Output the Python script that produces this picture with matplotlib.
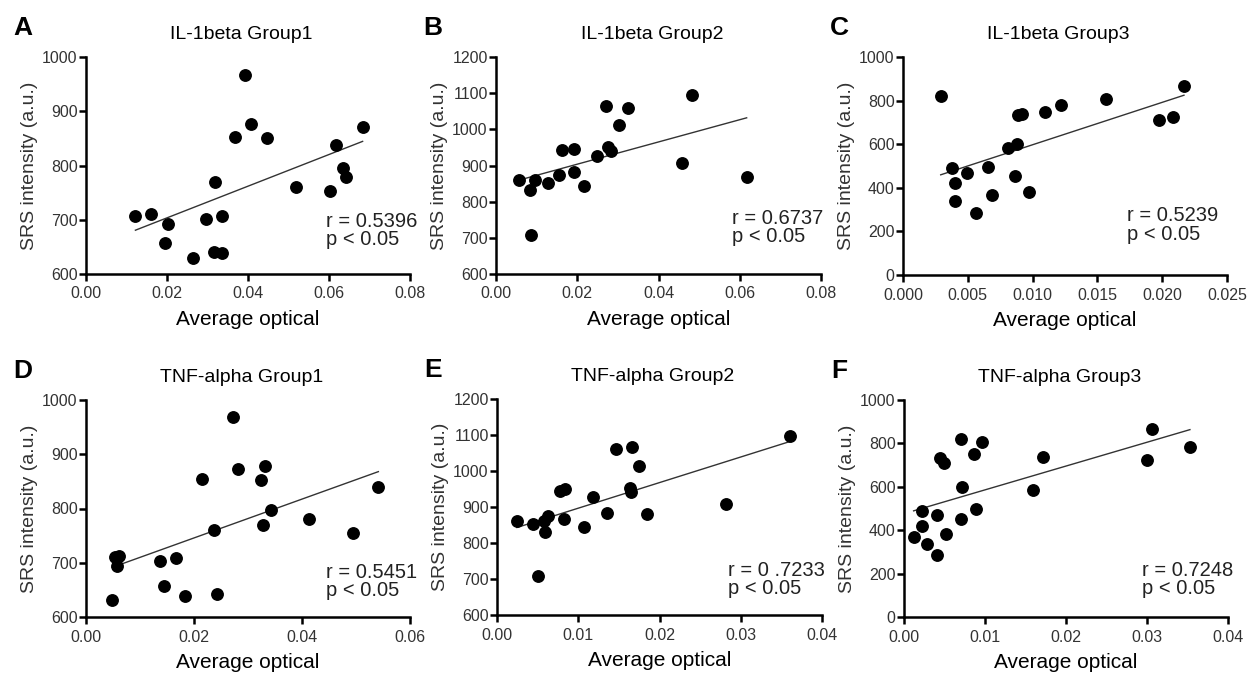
import matplotlib
matplotlib.use("Agg")
import matplotlib.pyplot as plt
import numpy as np

plt.rcParams["font.family"] = ["Liberation Sans", "DejaVu Sans"]

# ---- data ----
a_x = [0.0122, 0.0160, 0.0203, 0.0195, 0.0263, 0.0296, 0.0319, 0.0317, 0.0337, 0.0337,
       0.0367, 0.0393, 0.0408, 0.0446, 0.0518, 0.0602, 0.0618, 0.0635, 0.0642, 0.0683]
a_y = [707, 711, 693, 657, 630, 702, 769, 641, 639, 706,
       853, 967, 877, 850, 760, 753, 837, 796, 778, 871]

b_x = [0.0057, 0.0084, 0.0095, 0.0085, 0.0129, 0.0156, 0.0162, 0.0191, 0.0191, 0.0217,
       0.0248, 0.0270, 0.0275, 0.0283, 0.0302, 0.0324, 0.0458, 0.0482, 0.0617]
b_y = [860, 831, 860, 708, 851, 875, 942, 946, 882, 844,
       927, 1065, 952, 941, 1012, 1058, 907, 1095, 867]

c_x = [0.00291, 0.00376, 0.00404, 0.00404, 0.00494, 0.00563, 0.00656, 0.00689, 0.00808, 0.00877,
       0.00862, 0.00887, 0.00918, 0.00970, 0.01093, 0.01222, 0.01564, 0.01973, 0.02083, 0.02168]
c_y = [819, 490, 421, 338, 470, 286, 496, 366, 583, 602,
       456, 732, 737, 383, 750, 781, 807, 709, 723, 865]

d_x = [0.00488, 0.00537, 0.00617, 0.00580, 0.01377, 0.01438, 0.01673, 0.01833, 0.02148, 0.02370,
       0.02432, 0.02716, 0.02809, 0.03235, 0.03321, 0.03272, 0.03426, 0.04130, 0.04938, 0.05414]
d_y = [631, 710, 712, 694, 704, 658, 708, 639, 854, 761,
       643, 969, 873, 852, 879, 770, 798, 780, 754, 839]

e_x = [0.00246, 0.00443, 0.00509, 0.00587, 0.00583, 0.00632, 0.00779, 0.00833, 0.00821, 0.01075,
       0.01186, 0.01354, 0.01460, 0.01666, 0.01633, 0.01645, 0.01748, 0.01846, 0.02823, 0.03602]
e_y = [860, 852, 707, 831, 862, 875, 944, 949, 868, 844,
       929, 882, 1060, 1067, 952, 943, 1013, 880, 908, 1097]

f_x = [0.00119, 0.00227, 0.00227, 0.00288, 0.00412, 0.00412, 0.00445, 0.00494, 0.00515, 0.00700,
       0.00713, 0.00700, 0.00865, 0.00890, 0.00968, 0.01598, 0.01718, 0.02999, 0.03061, 0.03530]
f_y = [367, 419, 488, 338, 470, 286, 734, 710, 382, 822,
       601, 453, 750, 496, 808, 584, 736, 722, 866, 782]

# (letter, title, x, y, xticks, yticks, tick format, stats text)
PANELS = [
    ("A", "IL-1beta Group1", a_x, a_y, [0, 0.02, 0.04, 0.06, 0.08], [600, 700, 800, 900, 1000],
     "%.2f", "r = 0.5396\np < 0.05"),
    ("B", "IL-1beta Group2", b_x, b_y, [0, 0.02, 0.04, 0.06, 0.08], [600, 700, 800, 900, 1000, 1100, 1200],
     "%.2f", "r = 0.6737\np < 0.05"),
    ("C", "IL-1beta Group3", c_x, c_y, [0, 0.005, 0.010, 0.015, 0.020, 0.025], [0, 200, 400, 600, 800, 1000],
     "%.3f", "r = 0.5239\np < 0.05"),
    ("D", "TNF-alpha Group1", d_x, d_y, [0, 0.02, 0.04, 0.06], [600, 700, 800, 900, 1000],
     "%.2f", "r = 0.5451\np < 0.05"),
    ("E", "TNF-alpha Group2", e_x, e_y, [0, 0.01, 0.02, 0.03, 0.04], [600, 700, 800, 900, 1000, 1100, 1200],
     "%.2f", "r = 0 .7233\np < 0.05"),
    ("F", "TNF-alpha Group3", f_x, f_y, [0, 0.01, 0.02, 0.03, 0.04], [0, 200, 400, 600, 800, 1000],
     "%.2f", "r = 0.7248\np < 0.05"),
]

# axes boxes in pixels: left, top, right, bottom
BOXES = [
    (86, 57, 410, 274), (496, 57, 821, 274), (903, 57, 1227, 275),
    (86, 400, 410, 617), (497, 399, 822, 615), (904, 400, 1228, 617),
]
# stats text anchor (axes fraction, top-left)
STAT_POS = [(0.74, 0.285), (0.725, 0.30), (0.69, 0.315), (0.74, 0.25), (0.71, 0.25), (0.735, 0.26)]

W, H = 1254, 675
fig = plt.figure(figsize=(W / 100, H / 100), dpi=100)

for (letter, title, xs, ys, xt, yt, fmt, stat), (l, t, r, b), (sx, sy) in zip(PANELS, BOXES, STAT_POS):
    ax = fig.add_axes([l / W, 1 - b / H, (r - l) / W, (b - t) / H])
    xs = np.array(xs)
    ys = np.array(ys)
    ax.scatter(xs, ys, s=68, color="black", zorder=3, clip_on=False)
    k, c0 = np.polyfit(xs, ys, 1)
    xl = np.array([xs.min(), xs.max()])
    ax.plot(xl, k * xl + c0, color="#333333", linewidth=1.0, zorder=2)

    ax.set_xlim(xt[0], xt[-1])
    ax.set_ylim(yt[0], yt[-1])
    ax.set_xticks(xt)
    ax.set_xticklabels([fmt % v for v in xt])
    ax.set_yticks(yt)
    for side in ("top", "right"):
        ax.spines[side].set_visible(False)
    for side in ("left", "bottom"):
        ax.spines[side].set_linewidth(1.8)
    ax.tick_params(direction="out", length=5, width=1.8, labelsize=11.5, colors="black",
                   labelcolor="#333333")
    ax.tick_params(axis="x", pad=4)
    ax.tick_params(axis="y", pad=1)

    ax.set_title(title, fontsize=14, pad=13, x=0.48)
    ax.set_xlabel("Average optical", fontsize=15, labelpad=6)
    ax.set_ylabel("SRS intensity (a.u.)", fontsize=14, labelpad=3, color="#333333")
    ax.text(sx, sy, stat, transform=ax.transAxes, ha="left", va="top",
            fontsize=14.5, linespacing=0.95, color="#222222")

    fig.text((l - 73) / W, 1 - (t - 29) / H, letter, fontsize=19, fontweight="bold",
             ha="left", va="center")

fig.savefig("out.png", dpi=100)
